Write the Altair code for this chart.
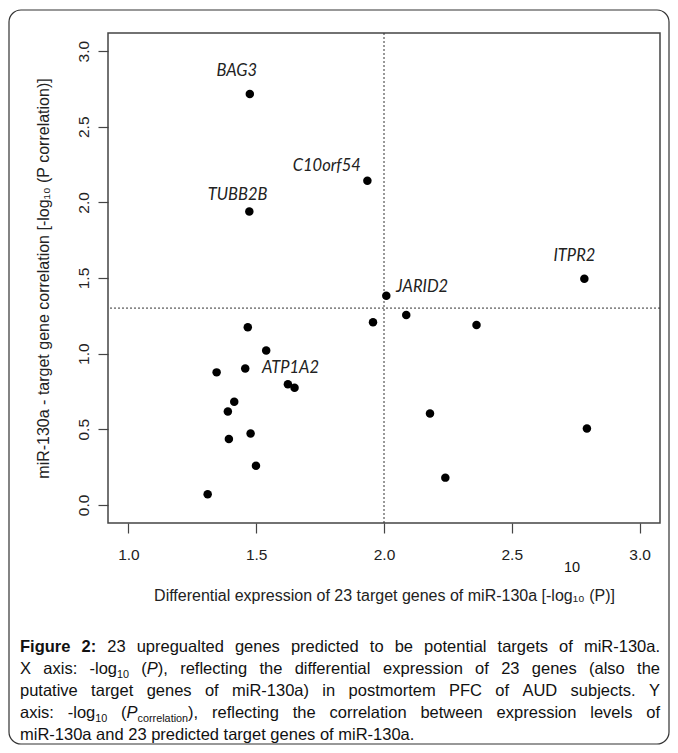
import altair as alt
import pandas as pd

# ---- data ----
x_vals = [1.475, 1.935, 1.473, 2.784, 2.009, 1.957, 2.087, 2.362, 1.467, 1.539,
          1.457, 1.624, 1.650, 1.414, 1.389, 1.478, 1.393, 1.499, 2.180, 2.794,
          1.345, 1.310, 2.240]
y_vals = [2.716, 2.143, 1.939, 1.495, 1.383, 1.208, 1.256, 1.190, 1.175, 1.021,
          0.902, 0.797, 0.775, 0.681, 0.617, 0.472, 0.435, 0.259, 0.604, 0.505,
          0.876, 0.070, 0.180]

label_names = ["BAG3", "C10orf54", "TUBB2B", "ITPR2", "JARID2", "ATP1A2"]
label_x = [1.424, 1.776, 1.427, 2.745, 2.149, 1.634]
label_y = [2.866, 2.240, 2.049, 1.647, 1.441, 0.902]

x_ticks = [1.0, 1.5, 2.0, 2.5, 3.0]
y_ticks = [0.0, 0.5, 1.0, 1.5, 2.0, 2.5, 3.0]
x_cut = [2.0]
y_cut = [1.30103]

x_title = "Differential expression of 23 target genes of miR-130a [-log\u2081\u2080 (P)]"
y_title = "miR-130a - target gene correlation [-log\u2081\u2080 (P correlation)]"

# caption: lines of words; each word is a list of (text, kind) runs
caption_lines = [
    [[("Figure", "b")], [("2:", "b")], [("23", "n")], [("upregualted", "n")], [("genes", "n")],
     [("predicted", "n")], [("to", "n")], [("be", "n")], [("potential", "n")],
     [("targets", "n")], [("of", "n")], [("miR-130a.", "n")]],
    [[("X", "n")], [("axis:", "n")], [("-log", "n"), ("10", "s")],
     [("(", "n"), ("P", "i"), ("),", "n")], [("reflecting", "n")], [("the", "n")],
     [("differential", "n")], [("expression", "n")], [("of", "n")], [("23", "n")],
     [("genes", "n")], [("(also", "n")], [("the", "n")]],
    [[(w, "n")] for w in "putative target genes of miR-130a) in postmortem PFC of AUD subjects. Y".split()],
    [[("axis:", "n")], [("-log", "n"), ("10", "s")],
     [("(", "n"), ("P", "i"), ("correlation", "s"), ("),", "n")],
     *[[(w, "n")] for w in "reflecting the correlation between expression levels of".split()]],
    [[(w, "n")] for w in "miR-130a and 23 predicted target genes of miR-130a.".split()],
]

points_df = pd.DataFrame({"x": x_vals, "y": y_vals})
labels_df = pd.DataFrame({"x": label_x, "y": label_y, "name": label_names})
one = pd.DataFrame({"a": [0]})

W, H = 552, 490
FONT = "Liberation Sans"
xscale = alt.Scale(domain=[0.92, 3.08], nice=False, zero=False)
yscale = alt.Scale(domain=[-0.12, 3.12], nice=False, zero=False)

points = alt.Chart(points_df).mark_circle(size=72, color="black", opacity=1).encode(
    x=alt.X("x:Q", scale=xscale, axis=alt.Axis(
        values=x_ticks, format=".1f", title=x_title, grid=False, domain=False,
        tickSize=10, tickColor="#444", tickWidth=1.2,
        labelFont=FONT, labelFontSize=15.5, labelColor="#222", labelPadding=14,
        labelFlush=False,
        titleFont=FONT, titleFontSize=16, titleFontWeight="normal", titleColor="#222",
        titleY=72, titleBaseline="middle")),
    y=alt.Y("y:Q", scale=yscale, axis=alt.Axis(
        values=y_ticks, format=".1f", title=y_title, grid=False, domain=False,
        tickSize=10, tickColor="#444", tickWidth=1.2,
        labelFont=FONT, labelFontSize=15.5, labelColor="#222", labelPadding=10,
        labelAngle=270, labelAlign="center", labelBaseline="alphabetic",
        labelFlush=False,
        titleFont=FONT, titleFontSize=16, titleFontWeight="normal", titleColor="#222",
        titleAngle=270, titleX=-65, titleY=H / 2, titleAlign="center",
        titleBaseline="middle")),
)

labels = alt.Chart(labels_df).mark_text(
    font="Lato", fontStyle="italic", fontSize=16.5, color="#222"
).encode(x=alt.X("x:Q", scale=xscale), y=alt.Y("y:Q", scale=yscale), text="name:N")

vline = alt.Chart(pd.DataFrame({"v": x_cut})).mark_rule(
    color="#333", strokeDash=[2, 2], strokeWidth=1).encode(x=alt.X("v:Q", scale=xscale))
hline = alt.Chart(pd.DataFrame({"v": y_cut})).mark_rule(
    color="#333", strokeDash=[2, 2], strokeWidth=1).encode(y=alt.Y("v:Q", scale=yscale))

def txt(s, x, y, size=15, weight="normal", style="normal", align="left"):
    return alt.Chart(one).mark_text(
        font=FONT, fontSize=size, fontWeight=weight, fontStyle=style,
        align=align, baseline="alphabetic", color="#111"
    ).encode(x=alt.value(x), y=alt.value(y), text=alt.value(s))

stray = txt("10", 464, 539, size=14.5, align="center")

# --- caption layout (Arial / Liberation Sans metrics, justified) ---
REG = dict(zip("abcdefghijklmnopqrstuvwxyz",
               [556, 556, 500, 556, 556, 278, 556, 556, 222, 222, 500, 222, 833,
                556, 556, 556, 556, 333, 500, 278, 556, 500, 722, 500, 500, 500]))
REG.update(dict(zip("ABCDEFGHIJKLMNOPQRSTUVWXYZ",
                    [667, 667, 722, 722, 667, 611, 778, 722, 278, 500, 667, 556, 833,
                     722, 778, 667, 778, 722, 667, 611, 722, 667, 944, 667, 667, 611])))
REG.update({d: 556 for d in "0123456789"})
REG.update({" ": 278, "-": 333, "(": 333, ")": 333, ":": 278, ",": 278, ".": 278})
BOLD = dict(REG)
BOLD.update({"F": 611, "i": 278, "g": 611, "u": 611, "r": 389, "e": 556, ":": 333, "2": 556})

CF = 16.5          # caption font size
SUB = 10.8         # subscript size
LEFT, RIGHT = -88, 552   # caption left/right edge (relative to plot origin)
BASE0, LEAD = 619, 22    # first baseline and line spacing

def run_w(text, kind):
    tab = BOLD if kind == "b" else REG
    size = SUB if kind == "s" else CF
    return sum(tab[c] for c in text) / 1000 * size

cap = []
for li, line in enumerate(caption_lines):
    widths = [sum(run_w(t, k) for t, k in word) for word in line]
    last = li == len(caption_lines) - 1
    gap = REG[" "] / 1000 * CF if last else (RIGHT - LEFT - sum(widths)) / (len(line) - 1)
    xpos = LEFT
    base = BASE0 + li * LEAD
    for word, wdt in zip(line, widths):
        rx = xpos
        for t, k in word:
            if k == "b":
                cap.append(txt(t, rx, base, size=CF, weight="bold"))
            elif k == "i":
                cap.append(txt(t, rx, base, size=CF, style="italic"))
            elif k == "s":
                cap.append(txt(t, rx, base + 3.5, size=SUB))
            else:
                cap.append(txt(t, rx, base, size=CF))
            rx += run_w(t, k)
        xpos += wdt + gap

border = alt.Chart(one).mark_rect(
    fill=None, stroke="#333", strokeWidth=1.2, cornerRadius=12
).encode(x=alt.value(-99), x2=alt.value(561), y=alt.value(-23), y2=alt.value(711))

chart = alt.layer(border, vline, hline, points, labels, stray, *cap).properties(
    width=W, height=H,
    autosize=alt.AutoSizeParams(type="none"),
    padding={"left": 100, "top": 25, "right": 10, "bottom": 222},
).configure_view(stroke="#444", strokeWidth=1.5)

chart.save("out.html", embed_options={"renderer": "svg", "actions": False})
